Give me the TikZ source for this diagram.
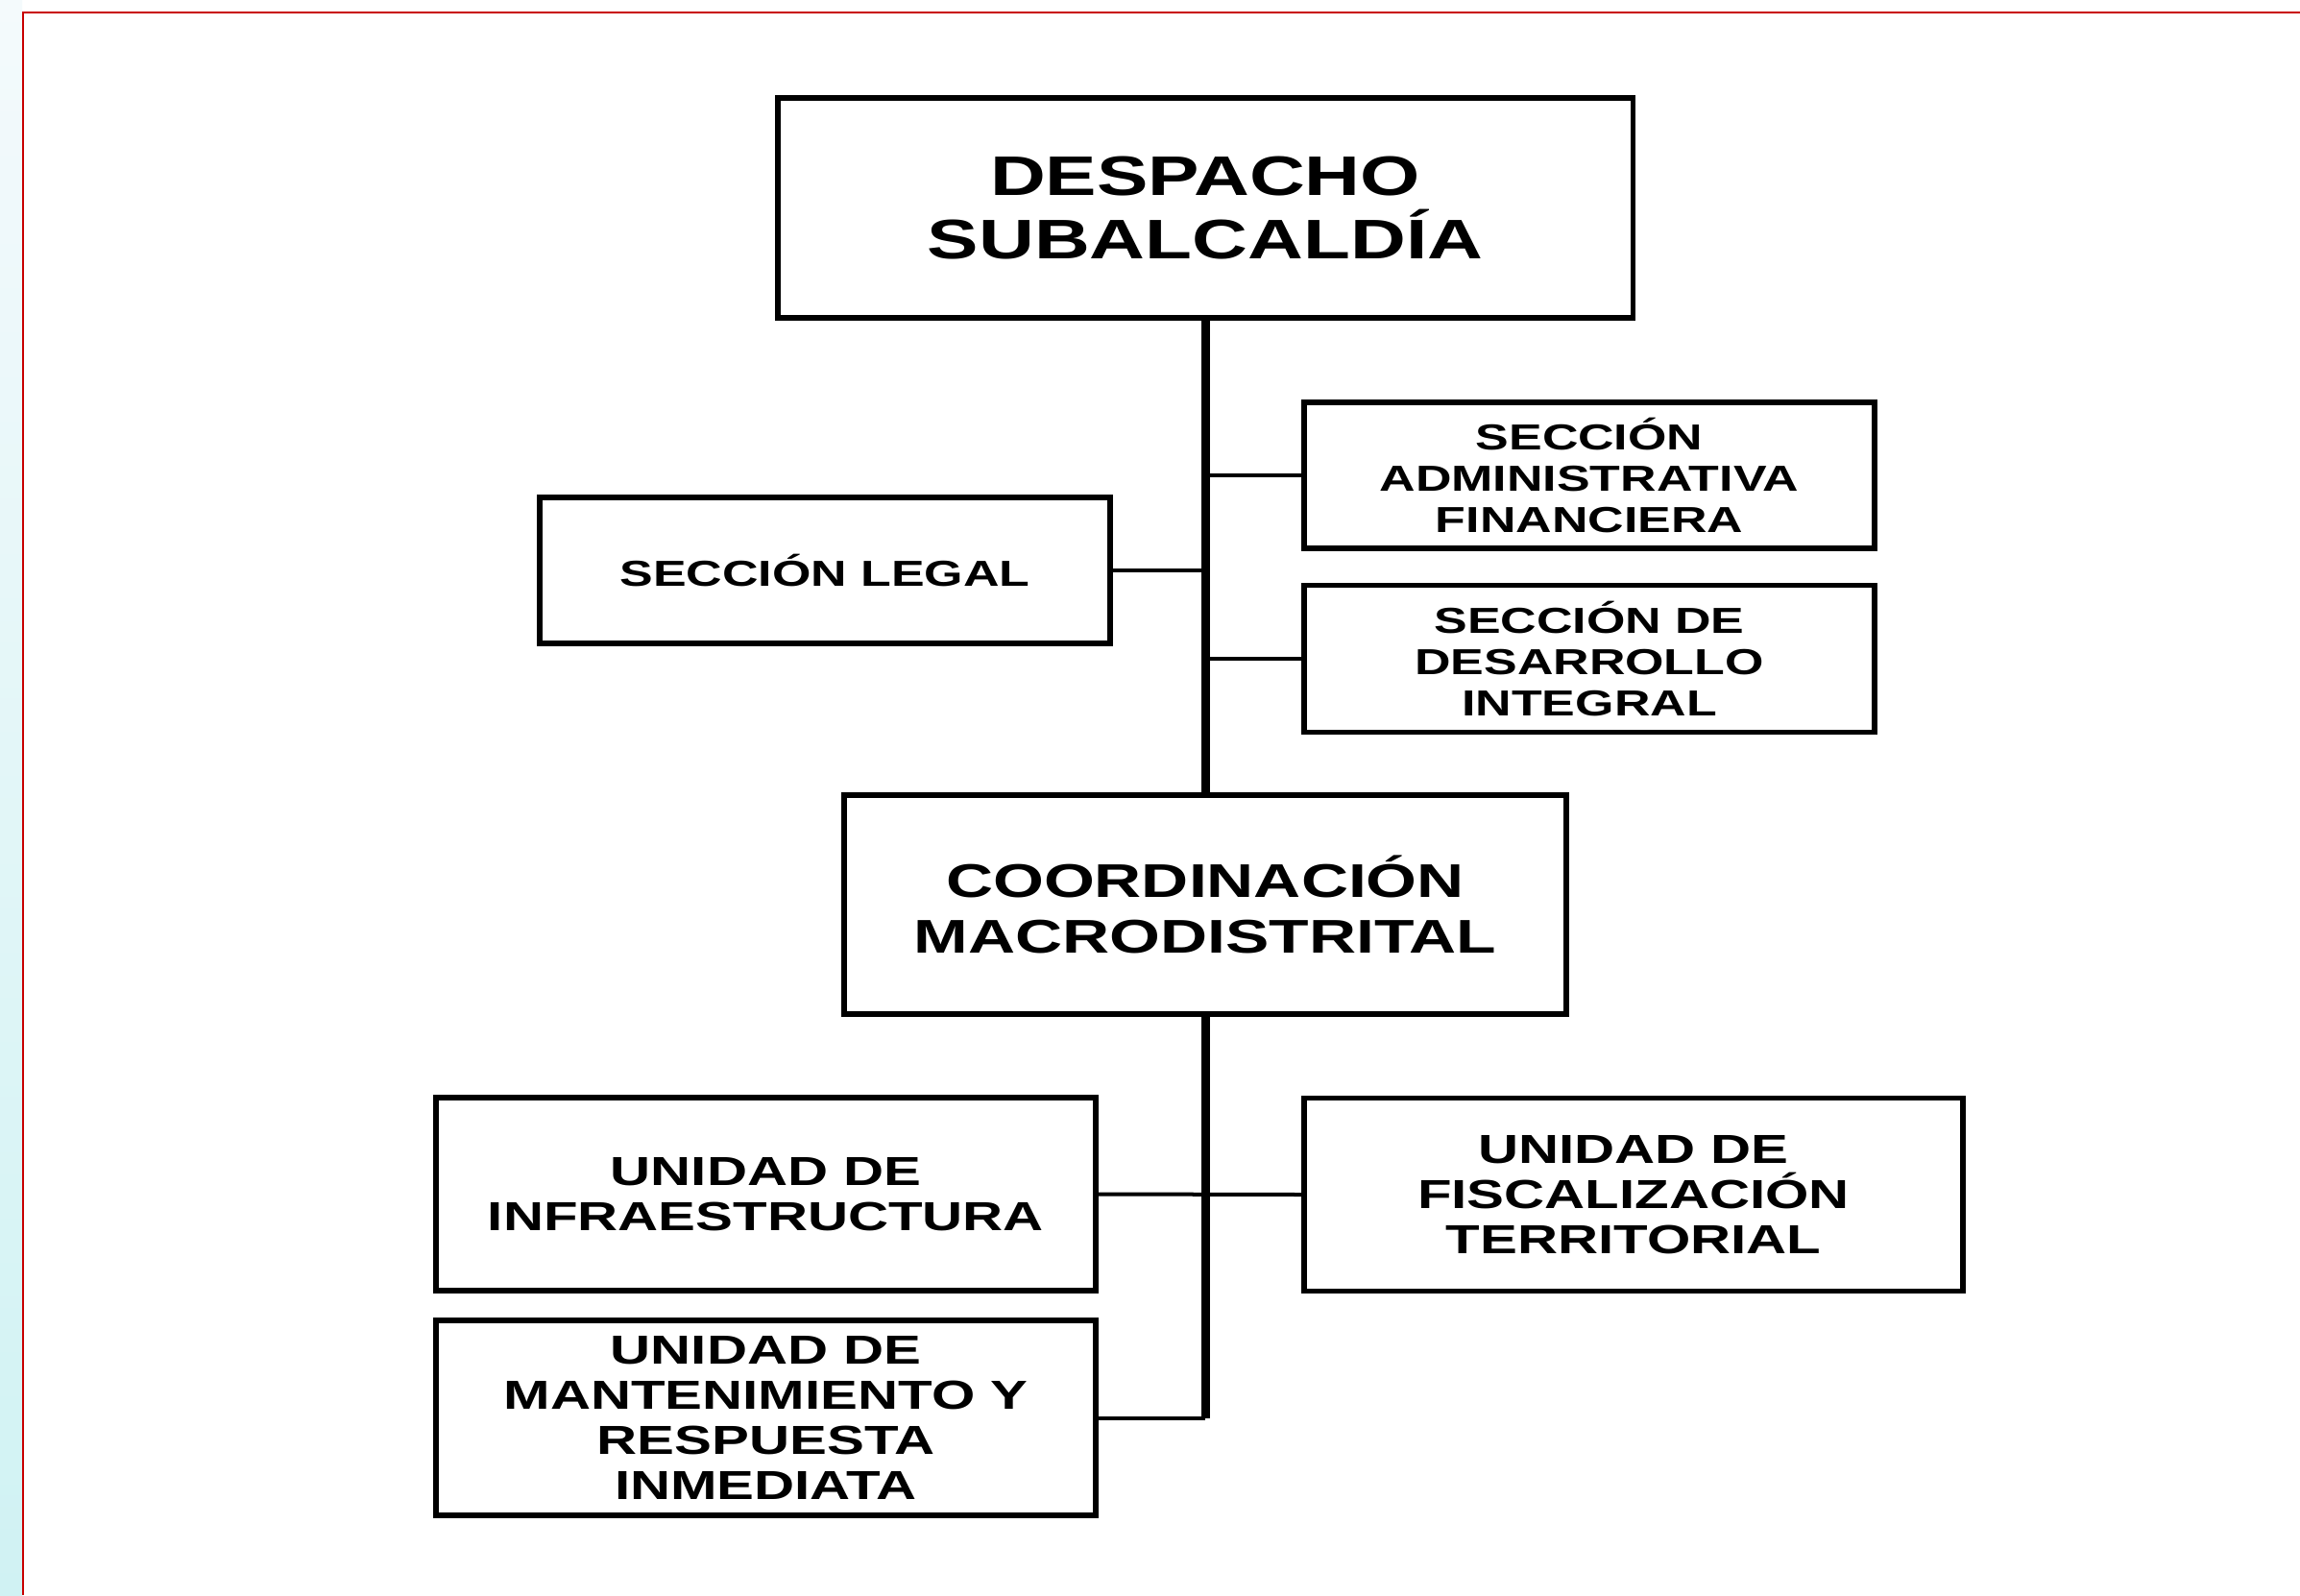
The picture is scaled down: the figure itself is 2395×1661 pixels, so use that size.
\documentclass[tikz,border=0pt]{standalone}
\usepackage{fontspec}
\newfontfamily\orgfont{Liberation Sans}[FakeStretch=1.38]
\definecolor{framered}{RGB}{200,0,0}
\definecolor{striptop}{RGB}{244,250,252}
\definecolor{stripbot}{RGB}{208,242,243}
\begin{document}
\begin{tikzpicture}[x=0.01cm,y=-0.01cm,
  orgbox/.style={draw=black, line width=0.055cm, fill=white, align=center, inner sep=0pt},
  bigtext/.style={font=\orgfont\bfseries\fontsize{16.5}{18.7}\selectfont},
  midtext/.style={font=\orgfont\bfseries\fontsize{14}{16.4}\selectfont},
  sectext/.style={font=\orgfont\bfseries\fontsize{10.7}{12.2}\selectfont},
  unitext/.style={font=\orgfont\bfseries\fontsize{12}{13.3}\selectfont},
  trunkline/.style={draw=black, line width=0.09cm},
  branchline/.style={draw=black, line width=0.04cm},
  frameline/.style={draw=framered, line width=0.028cm}]
\fill[white] (0,0) rectangle (2395,1661);
\useasboundingbox (0,0) rectangle (2395,1661);
\shade[top color=striptop, bottom color=stripbot] (0,0) rectangle (23,1661);
\draw[frameline] (24,1661) -- (24,13) -- (2395,13);

\node[orgbox, bigtext, minimum width=8.90cm, minimum height=2.29cm] (desp) at (1255,216.5) {DESPACHO\\SUBALCALDÍA};
\node[orgbox, sectext, minimum width=5.94cm, minimum height=1.52cm] (legal) at (859,594) {SECCIÓN LEGAL};
\node[orgbox, sectext, minimum width=5.94cm, minimum height=1.52cm] (admin) at (1655,495) {SECCIÓN\\ADMINISTRATIVA\\FINANCIERA};
\node[orgbox, sectext, minimum width=5.94cm, minimum height=1.53cm] (desar) at (1655,686) {SECCIÓN DE\\DESARROLLO\\INTEGRAL};
\node[orgbox, midtext, minimum width=7.52cm, minimum height=2.28cm] (coord) at (1255,942) {COORDINACIÓN\\MACRODISTRITAL};
\node[orgbox, unitext, minimum width=6.87cm, minimum height=2.01cm] (infra) at (797.5,1243.5) {UNIDAD DE\\INFRAESTRUCTURA};
\node[orgbox, unitext, minimum width=6.86cm, minimum height=2.01cm] (fisc) at (1701,1244) {UNIDAD DE\\FISCALIZACIÓN\\TERRITORIAL};
\node[orgbox, unitext, minimum width=6.87cm, minimum height=2.03cm] (mant) at (797.5,1476.5) {UNIDAD DE\\MANTENIMIENTO Y\\RESPUESTA\\INMEDIATA};

\coordinate (bend) at (coord.south |- mant.east);
\draw[trunkline] (desp.south) -- (coord.north);
\draw[trunkline] (coord.south) -- (bend);
\draw[branchline] (mant.east) -- (bend);
\draw[branchline] (legal.east) -- (legal.east -| desp.south);
\draw[branchline] (admin.west) -- (admin.west -| desp.south);
\draw[branchline] (desar.west) -- (desar.west -| desp.south);
\draw[branchline] (infra.east) -- (fisc.west);
\end{tikzpicture}
\end{document}
